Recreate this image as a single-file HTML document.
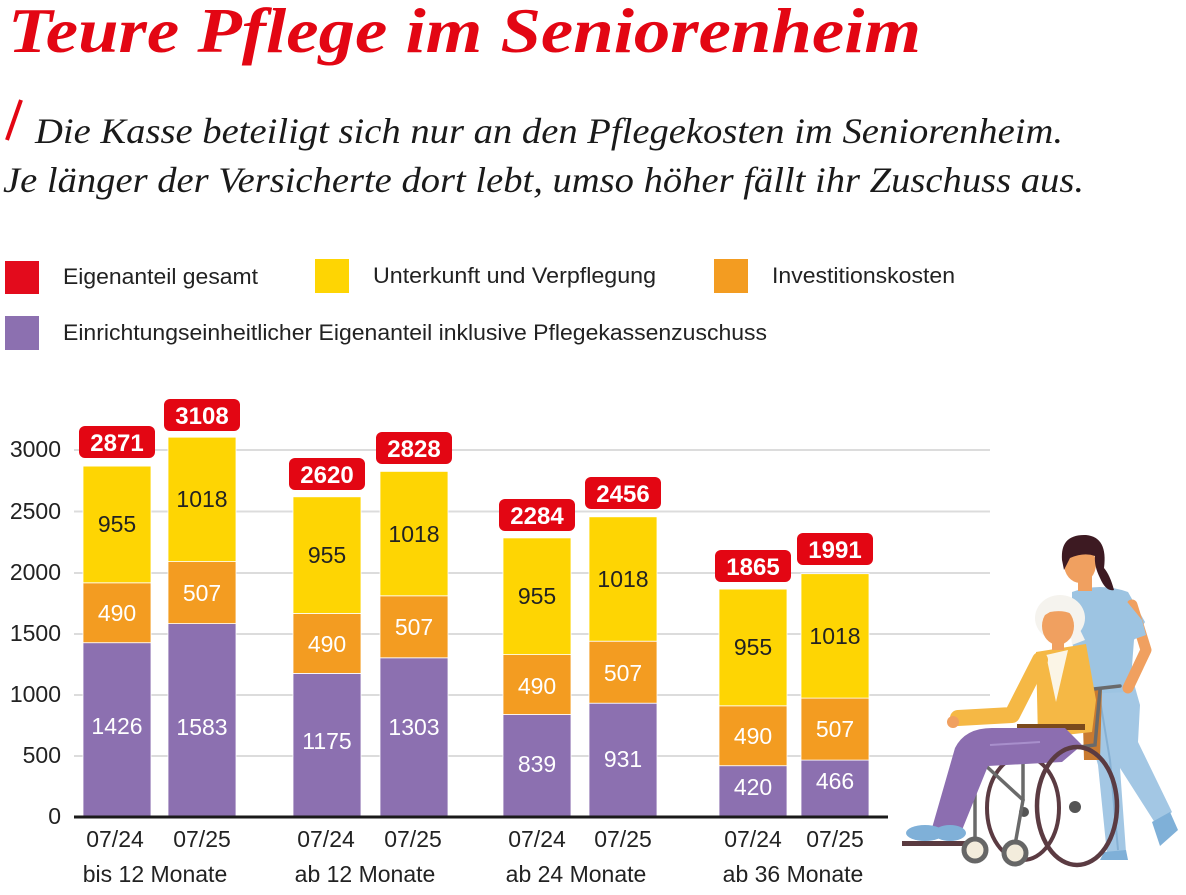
<!DOCTYPE html>
<html>
<head>
<meta charset="utf-8">
<style>
  html,body{margin:0;padding:0;background:#fff;}
  svg{display:block;}
  .sans{font-family:"Liberation Sans", sans-serif;}
  .serif{font-family:"Liberation Serif", serif;}
</style>
</head>
<body>
<svg width="1186" height="895" viewBox="0 0 1186 895" xmlns="http://www.w3.org/2000/svg">
  <rect width="1186" height="895" fill="#fff"/>

  <!-- Title -->
  <text class="serif" x="8" y="52" font-size="64" font-weight="bold" font-style="italic" fill="#e30613" textLength="913" lengthAdjust="spacingAndGlyphs">Teure Pflege im Seniorenheim</text>

  <!-- Subtitle -->
  <line x1="7" y1="140" x2="21" y2="100" stroke="#e30613" stroke-width="4"/>
  <text class="serif" x="35" y="143" font-size="36" font-style="italic" fill="#1a1a1a" textLength="1028" lengthAdjust="spacingAndGlyphs">Die Kasse beteiligt sich nur an den Pflegekosten im Seniorenheim.</text>
  <text class="serif" x="3" y="192" font-size="36" font-style="italic" fill="#1a1a1a" textLength="1081" lengthAdjust="spacingAndGlyphs">Je länger der Versicherte dort lebt, umso höher fällt ihr Zuschuss aus.</text>

  <!-- Legend -->
  <rect x="5" y="261" width="34" height="33" fill="#e30b1c"/>
  <text class="sans" x="63" y="284" font-size="22" fill="#222" textLength="195" lengthAdjust="spacingAndGlyphs">Eigenanteil gesamt</text>
  <rect x="315" y="259" width="34" height="34" fill="#fed503"/>
  <text class="sans" x="373" y="283" font-size="22" fill="#222" textLength="283" lengthAdjust="spacingAndGlyphs">Unterkunft und Verpflegung</text>
  <rect x="714" y="259" width="34" height="34" fill="#f39c21"/>
  <text class="sans" x="772" y="283" font-size="22" fill="#222" textLength="183" lengthAdjust="spacingAndGlyphs">Investitionskosten</text>
  <rect x="5" y="316" width="34" height="34" fill="#8c70b0"/>
  <text class="sans" x="63" y="340" font-size="22" fill="#222" textLength="704" lengthAdjust="spacingAndGlyphs">Einrichtungseinheitlicher Eigenanteil inklusive Pflegekassenzuschuss</text>

  <!-- Gridlines -->
  <g stroke="#dcdcdc" stroke-width="2">
    <line x1="74" y1="756" x2="990" y2="756"/>
    <line x1="74" y1="695" x2="990" y2="695"/>
    <line x1="74" y1="634" x2="990" y2="634"/>
    <line x1="74" y1="573" x2="990" y2="573"/>
    <line x1="74" y1="511.5" x2="990" y2="511.5"/>
    <line x1="74" y1="450" x2="990" y2="450"/>
  </g>

  <!-- Y labels -->
  <g class="sans" font-size="23" fill="#222" text-anchor="end">
    <text x="61" y="824">0</text>
    <text x="61" y="763">500</text>
    <text x="61" y="702">1000</text>
    <text x="61" y="641">1500</text>
    <text x="61" y="580">2000</text>
    <text x="61" y="519">2500</text>
    <text x="61" y="457">3000</text>
  </g>

  <!-- Bars -->
  <g stroke="#fff" stroke-width="0.8">
    <rect x="83" y="642.7" width="68" height="174.3" fill="#8c70b0"/>
    <rect x="83" y="582.8" width="68" height="59.9" fill="#f39c21"/>
    <rect x="83" y="466.1" width="68" height="116.7" fill="#fed503"/>
    <rect x="168" y="623.6" width="68" height="193.4" fill="#8c70b0"/>
    <rect x="168" y="561.6" width="68" height="62" fill="#f39c21"/>
    <rect x="168" y="437.2" width="68" height="124.4" fill="#fed503"/>
    <rect x="293" y="673.4" width="68" height="143.6" fill="#8c70b0"/>
    <rect x="293" y="613.5" width="68" height="59.9" fill="#f39c21"/>
    <rect x="293" y="496.8" width="68" height="116.7" fill="#fed503"/>
    <rect x="380" y="657.8" width="68" height="159.2" fill="#8c70b0"/>
    <rect x="380" y="595.8" width="68" height="62" fill="#f39c21"/>
    <rect x="380" y="471.4" width="68" height="124.4" fill="#fed503"/>
    <rect x="503" y="714.5" width="68" height="102.5" fill="#8c70b0"/>
    <rect x="503" y="654.6" width="68" height="59.9" fill="#f39c21"/>
    <rect x="503" y="537.9" width="68" height="116.7" fill="#fed503"/>
    <rect x="589" y="703.2" width="68" height="113.8" fill="#8c70b0"/>
    <rect x="589" y="641.2" width="68" height="62" fill="#f39c21"/>
    <rect x="589" y="516.8" width="68" height="124.4" fill="#fed503"/>
    <rect x="719" y="765.7" width="68" height="51.3" fill="#8c70b0"/>
    <rect x="719" y="705.8" width="68" height="59.9" fill="#f39c21"/>
    <rect x="719" y="589.1" width="68" height="116.7" fill="#fed503"/>
    <rect x="801" y="760.1" width="68" height="56.9" fill="#8c70b0"/>
    <rect x="801" y="698.1" width="68" height="62" fill="#f39c21"/>
    <rect x="801" y="573.7" width="68" height="124.4" fill="#fed503"/>
  </g>

  <!-- Segment labels -->
  <g class="sans" font-size="23" text-anchor="middle">
    <g fill="#222">
      <text x="117" y="532">955</text>
      <text x="202" y="507">1018</text>
      <text x="327" y="563">955</text>
      <text x="414" y="542">1018</text>
      <text x="537" y="604">955</text>
      <text x="623" y="587">1018</text>
      <text x="753" y="655">955</text>
      <text x="835" y="644">1018</text>
    </g>
    <g fill="#fff">
      <text x="117" y="621">490</text>
      <text x="202" y="601">507</text>
      <text x="327" y="652">490</text>
      <text x="414" y="635">507</text>
      <text x="537" y="694">490</text>
      <text x="623" y="681">507</text>
      <text x="753" y="744">490</text>
      <text x="835" y="737">507</text>

      <text x="117" y="734">1426</text>
      <text x="202" y="735">1583</text>
      <text x="327" y="749">1175</text>
      <text x="414" y="735">1303</text>
      <text x="537" y="772">839</text>
      <text x="623" y="767">931</text>
      <text x="753" y="795">420</text>
      <text x="835" y="789">466</text>
    </g>
  </g>

  <!-- Total boxes -->
  <g fill="#e30613">
    <rect x="79" y="426" width="76" height="32" rx="6"/>
    <rect x="164" y="399" width="76" height="32" rx="6"/>
    <rect x="289" y="458" width="76" height="32" rx="6"/>
    <rect x="376" y="432" width="76" height="32" rx="6"/>
    <rect x="499" y="499" width="76" height="32" rx="6"/>
    <rect x="585" y="477" width="76" height="32" rx="6"/>
    <rect x="715" y="550" width="76" height="32" rx="6"/>
    <rect x="797" y="533" width="76" height="32" rx="6"/>
  </g>
  <g class="sans" font-size="24" font-weight="bold" fill="#fff" text-anchor="middle">
    <text x="117" y="451">2871</text>
    <text x="202" y="424">3108</text>
    <text x="327" y="483">2620</text>
    <text x="414" y="457">2828</text>
    <text x="537" y="524">2284</text>
    <text x="623" y="502">2456</text>
    <text x="753" y="575">1865</text>
    <text x="835" y="558">1991</text>
  </g>

  <!-- Baseline -->
  <line x1="74" y1="817" x2="888" y2="817" stroke="#1a1a1a" stroke-width="3"/>

  <!-- X labels -->
  <g class="sans" font-size="23" fill="#222" text-anchor="middle">
    <text x="115" y="847">07/24</text>
    <text x="202" y="847">07/25</text>
    <text x="326" y="847">07/24</text>
    <text x="413" y="847">07/25</text>
    <text x="537" y="847">07/24</text>
    <text x="623" y="847">07/25</text>
    <text x="753" y="847">07/24</text>
    <text x="835" y="847">07/25</text>
    <text x="155" y="882">bis 12 Monate</text>
    <text x="365" y="882">ab 12 Monate</text>
    <text x="576" y="882">ab 24 Monate</text>
    <text x="793" y="882">ab 36 Monate</text>
  </g>

  <!-- Illustration -->
  <g>
    <!-- Nurse pants -->
    <path d="M1083,684 L1133,680 L1140,705 L1138,742 L1172,812 L1157,826 L1120,768 L1126,852 L1107,854 L1098,765 L1085,720 Z" fill="#a3c7e4"/>
    <path d="M1100,700 L1110,760 L1118,850" stroke="#86b0d3" stroke-width="2" fill="none"/>
    <path d="M1152,822 L1170,812 L1178,830 L1160,846 Z" fill="#7fb0d8"/>
    <path d="M1104,852 L1126,850 L1128,860 L1100,860 Z" fill="#7fb0d8"/>
    <!-- Nurse top -->
    <path d="M1072,592 Q1100,582 1128,592 L1145,622 L1134,640 L1130,692 L1080,694 L1072,640 Z" fill="#9dc4e2"/>
    <path d="M1132,605 L1146,650 L1128,688" stroke="#f0a060" stroke-width="11" fill="none" stroke-linecap="round" stroke-linejoin="round"/>
    <path d="M1124,598 L1142,620 L1146,635 L1132,640 Z" fill="#9dc4e2"/>
    <rect x="1078" y="575" width="14" height="16" fill="#f0a060"/>
    <ellipse cx="1080" cy="564" rx="16" ry="19" fill="#f0a060"/>
    <path d="M1062,560 Q1060,534 1086,535 Q1108,537 1104,568 Q1110,575 1114,590 Q1106,592 1100,578 Q1094,566 1095,556 Q1084,552 1070,558 Q1066,566 1064,570 Z" fill="#3d1a22"/>
    <!-- back wheel -->
    <ellipse cx="1023" cy="808" rx="36" ry="52" fill="none" stroke="#5b3b42" stroke-width="4"/>
    <circle cx="1024" cy="812" r="5" fill="#555"/>
    <path d="M1082,690 L1102,688 L1100,760 L1084,760 Z" fill="#c97a30"/>
    <g stroke="#6a6a6a" stroke-width="3.5" fill="none" stroke-linecap="round">
      <path d="M1085,690 L1120,686"/>
      <path d="M1100,690 L1095,745 L1040,752"/>
      <path d="M1023,730 L1023,800 L1015,845"/>
      <path d="M975,770 L975,840"/>
      <path d="M960,765 L1040,752"/>
      <path d="M985,765 L1023,800"/>
    </g>
    <!-- Woman -->
    <ellipse cx="1060" cy="618" rx="25" ry="23" fill="#f5f3ee"/>
    <path d="M1068,605 L1085,640 L1072,645 Z" fill="#f5f3ee"/>
    <path d="M1036,652 L1086,644 L1096,700 L1092,732 L1038,738 Z" fill="#f5b845"/>
    <path d="M1046,655 L1068,650 L1056,702 Z" fill="#fbf5e6"/>
    <path d="M1040,660 L1012,715 L958,718" stroke="#f5b845" stroke-width="16" fill="none" stroke-linecap="round" stroke-linejoin="round"/>
    <circle cx="953" cy="722" r="6" fill="#f0a060"/>
    <rect x="1052" y="638" width="12" height="12" fill="#f0a060"/>
    <ellipse cx="1058" cy="626" rx="16" ry="19" fill="#f0a060"/>
    <path d="M1040,618 Q1046,598 1068,600 Q1080,604 1082,622 Q1070,608 1050,612 Z" fill="#f5f3ee"/>
    <rect x="1017" y="724" width="68" height="6" fill="#7a4a1d"/>
    <path d="M1065,728 L1082,745 L1062,762 L988,766 L962,830 L932,828 L955,748 Q965,728 992,728 Z" fill="#8c6eb0"/>
    <path d="M990,745 L1040,742" stroke="#a88fcc" stroke-width="2" fill="none"/>
    <ellipse cx="925" cy="833" rx="19" ry="8" fill="#7fb0d8"/>
    <ellipse cx="950" cy="833" rx="16" ry="8" fill="#7fb0d8"/>
    <rect x="902" y="841" width="75" height="5" fill="#5a3a40"/>
    <ellipse cx="1077" cy="806" rx="40" ry="59" fill="none" stroke="#5b3b42" stroke-width="4.5"/>
    <circle cx="1075" cy="807" r="6" fill="#555"/>
    <circle cx="975" cy="850" r="11" fill="#f3ecdc" stroke="#666" stroke-width="5"/>
    <circle cx="1015" cy="853" r="11" fill="#f3ecdc" stroke="#666" stroke-width="5"/>
  </g>
</svg>
</body>
</html>
